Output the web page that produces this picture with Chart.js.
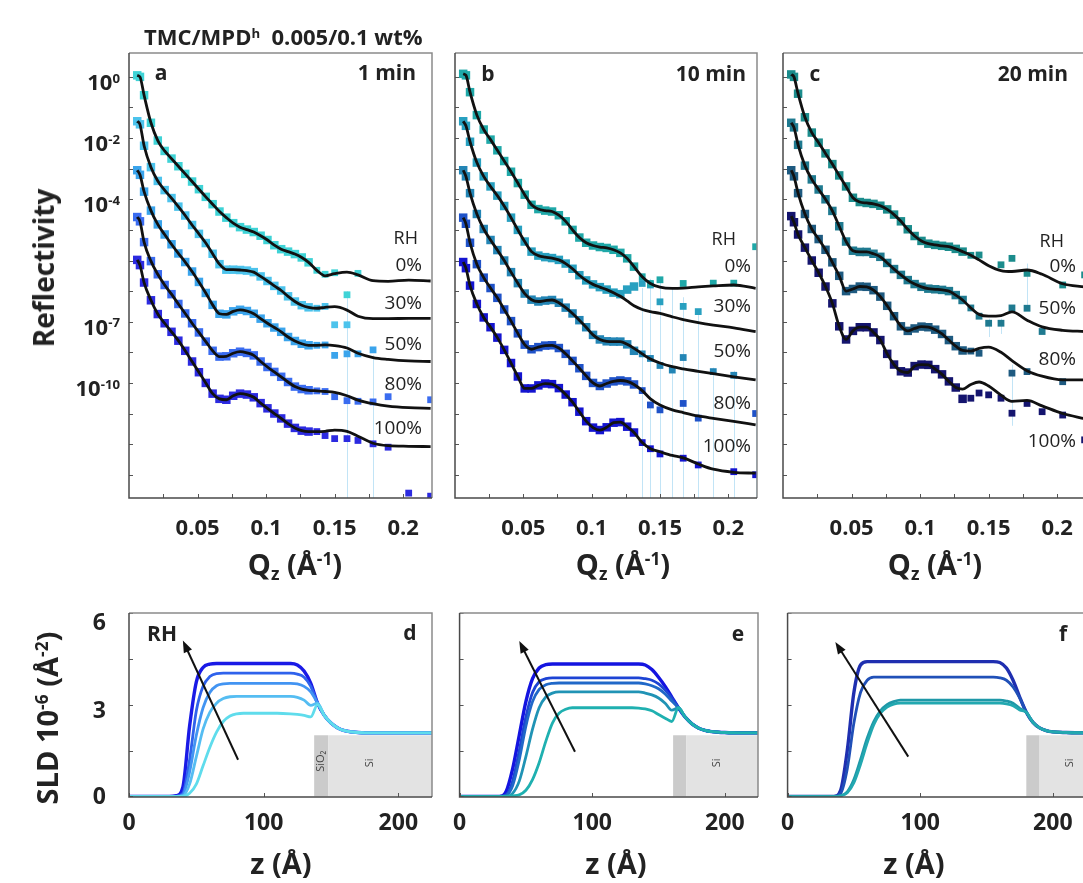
<!DOCTYPE html>
<html>
<head>
<meta charset="utf-8">
<script src="https://cdn.jsdelivr.net/npm/chart.js@4.4.1/dist/chart.umd.min.js"></script>
<style>
html, body { margin: 0; padding: 0; background: #fff; overflow: hidden; width: 1083px; height: 883px; }
body { position: relative; font-family: "Open Sans", "DejaVu Sans", sans-serif; color: #222; }
canvas { position: absolute; }
.lbl { position: absolute; white-space: nowrap; line-height: 1; }
.b { font-weight: 700; }
.sup { position: relative; font-size: 0.6em; top: -0.55em; }
.sub { position: relative; font-size: 0.6em; top: 0.3em; }
</style>
</head>
<body>
<canvas id="ca" width="445" height="560"></canvas>
<canvas id="cb" width="330" height="560"></canvas>
<canvas id="cc" width="330" height="560"></canvas>
<canvas id="cd" width="445" height="283"></canvas>
<canvas id="ce" width="330" height="283"></canvas>
<canvas id="cf" width="330" height="283"></canvas>
<script>
// ---- reflectivity data, log10(R), offset curves as in the figure ----
const qData = [0.006, 0.008, 0.011, 0.016, 0.021, 0.026, 0.031, 0.036, 0.041, 0.046, 0.051, 0.056, 0.061, 0.066, 0.071, 0.076, 0.081, 0.086, 0.091, 0.096, 0.101, 0.106, 0.111, 0.116, 0.121, 0.126, 0.131, 0.137, 0.143, 0.150, 0.159, 0.167, 0.178, 0.189, 0.204, 0.220];

// panel a, 1 min
const fitA0 = [0.05, 0.0, -0.6, -1.5, -2.08, -2.42, -2.67, -2.92, -3.17, -3.42, -3.67, -3.92, -4.16, -4.40, -4.60, -4.78, -4.91, -4.99, -5.07, -5.19, -5.33, -5.50, -5.63, -5.71, -5.79, -5.90, -6.06, -6.32, -6.50, -6.43, -6.38, -6.47, -6.66, -6.68, -6.64, -6.67];
const ptsA0 = [0.05, 0.0, -0.6, -1.5, -2.08, -2.42, -2.67, -2.92, -3.17, -3.42, -3.67, -3.92, -4.16, -4.40, -4.60, -4.78, -4.91, -4.99, -5.07, -5.19, -5.33, -5.50, -5.63, -5.71, -5.79, -5.90, -6.06, -6.32, -6.45, -6.40, -7.12, -6.42, null, null, null, null];
const fitA30 = [-1.45, -1.55, -2.25, -2.95, -3.40, -3.70, -3.96, -4.24, -4.53, -4.84, -5.13, -5.43, -5.78, -6.12, -6.30, -6.30, -6.31, -6.33, -6.38, -6.52, -6.67, -6.83, -6.98, -7.17, -7.34, -7.46, -7.53, -7.56, -7.53, -7.51, -7.62, -7.82, -7.90, -7.90, -7.89, -7.89];
const ptsA30 = [-1.45, -1.55, -2.25, -2.95, -3.40, -3.70, -3.96, -4.24, -4.53, -4.84, -5.13, -5.43, -5.78, -6.12, -6.30, -6.30, -6.31, -6.33, -6.38, -6.52, -6.67, -6.83, -6.98, -7.17, -7.34, -7.46, -7.53, -7.56, -7.50, -8.10, -8.10, null, null, null, null, null];
const fitA50 = [-3.05, -3.20, -3.75, -4.37, -4.82, -5.15, -5.47, -5.77, -6.05, -6.36, -6.70, -7.06, -7.45, -7.74, -7.76, -7.66, -7.61, -7.65, -7.74, -7.90, -8.05, -8.19, -8.33, -8.50, -8.63, -8.72, -8.77, -8.77, -8.76, -8.78, -8.86, -9.03, -9.17, -9.23, -9.28, -9.30];
const ptsA50 = [-3.05, -3.20, -3.75, -4.37, -4.82, -5.15, -5.47, -5.77, -6.05, -6.36, -6.70, -7.06, -7.45, -7.74, -7.76, -7.66, -7.61, -7.65, -7.74, -7.90, -8.05, -8.19, -8.33, -8.50, -8.63, -8.72, -8.77, -8.77, -8.76, -9.10, -9.05, -9.05, -8.92, null, null, null];
const fitA80 = [-4.58, -4.72, -5.40, -6.02, -6.45, -6.80, -7.10, -7.42, -7.73, -8.05, -8.35, -8.65, -8.95, -9.14, -9.13, -9.03, -8.98, -9.02, -9.10, -9.30, -9.48, -9.64, -9.80, -9.97, -10.12, -10.20, -10.24, -10.26, -10.28, -10.31, -10.42, -10.56, -10.68, -10.76, -10.81, -10.83];
const ptsA80 = [-4.58, -4.72, -5.40, -6.02, -6.45, -6.80, -7.10, -7.42, -7.73, -8.05, -8.35, -8.65, -8.95, -9.14, -9.13, -9.03, -8.98, -9.02, -9.10, -9.30, -9.48, -9.64, -9.80, -9.97, -10.12, -10.20, -10.24, -10.26, -10.28, -10.45, -10.58, -10.60, -10.62, -10.45, null, -10.55];
const fitA100 = [-5.98, -6.15, -6.72, -7.30, -7.75, -8.05, -8.33, -8.62, -8.95, -9.30, -9.65, -10.00, -10.35, -10.52, -10.55, -10.42, -10.35, -10.38, -10.47, -10.66, -10.83, -11.00, -11.16, -11.33, -11.47, -11.56, -11.59, -11.59, -11.58, -11.54, -11.58, -11.74, -11.97, -12.05, -12.07, -12.08];
const ptsA100 = [-5.98, -6.15, -6.72, -7.30, -7.75, -8.05, -8.33, -8.62, -8.95, -9.30, -9.65, -10.00, -10.35, -10.52, -10.55, -10.42, -10.35, -10.38, -10.47, -10.66, -10.83, -11.00, -11.16, -11.33, -11.47, -11.56, -11.59, -11.59, -11.72, -11.82, -11.82, -11.88, -11.99, -12.10, -13.6, -13.7];

// panel b, 10 min
const fitB0 = [0.10, 0.05, -0.50, -1.25, -1.72, -2.05, -2.40, -2.75, -3.10, -3.47, -3.85, -4.18, -4.32, -4.37, -4.40, -4.52, -4.72, -5.00, -5.25, -5.42, -5.51, -5.56, -5.59, -5.65, -5.75, -5.93, -6.20, -6.53, -6.75, -6.87, -6.91, -6.90, -6.86, -6.83, -6.80, -6.91];
const ptsB0 = [0.10, 0.05, -0.50, -1.25, -1.72, -2.05, -2.40, -2.75, -3.10, -3.47, -3.85, -4.18, -4.32, -4.37, -4.40, -4.52, -4.72, -5.00, -5.25, -5.42, -5.51, -5.56, -5.59, -5.65, -5.75, -5.93, -6.20, -6.53, -6.75, -6.63, null, -6.75, null, -6.74, -6.74, -5.55];
const fitB30 = [-1.45, -1.60, -2.12, -2.80, -3.25, -3.58, -3.88, -4.22, -4.60, -5.00, -5.38, -5.71, -5.84, -5.89, -5.92, -5.98, -6.10, -6.27, -6.48, -6.65, -6.78, -6.87, -6.95, -7.05, -7.17, -7.32, -7.48, -7.60, -7.67, -7.73, -7.84, -7.93, -8.03, -8.11, -8.20, -8.32];
const ptsB30 = [-1.45, -1.60, -2.12, -2.80, -3.25, -3.58, -3.88, -4.22, -4.60, -5.00, -5.38, -5.71, -5.84, -5.89, -5.92, -5.98, -6.10, -6.27, -6.48, -6.65, -6.78, -6.87, -6.95, -7.05, -7.10, -6.95, -6.85, -6.75, -6.80, -7.35, null, -7.50, -7.67, null, null, null];
const fitB50 = [-3.05, -3.25, -3.80, -4.48, -4.97, -5.33, -5.66, -6.00, -6.38, -6.74, -7.08, -7.28, -7.34, -7.31, -7.29, -7.38, -7.54, -7.73, -7.95, -8.18, -8.43, -8.58, -8.64, -8.65, -8.65, -8.74, -8.87, -9.05, -9.22, -9.35, -9.47, -9.54, -9.62, -9.70, -9.80, -9.90];
const ptsB50 = [-3.05, -3.25, -3.80, -4.48, -4.97, -5.33, -5.66, -6.00, -6.38, -6.74, -7.08, -7.28, -7.34, -7.31, -7.29, -7.38, -7.54, -7.73, -7.95, -8.18, -8.43, -8.58, -8.64, -8.65, -8.65, -8.74, -8.95, -9.05, -9.20, -9.43, -9.58, -9.17, null, -9.63, -9.75, null];
const fitB80 = [-4.60, -4.80, -5.42, -6.12, -6.56, -6.90, -7.22, -7.60, -7.98, -8.38, -8.75, -8.90, -8.83, -8.78, -8.77, -8.86, -9.05, -9.28, -9.52, -9.77, -10.00, -10.10, -10.02, -9.95, -9.92, -9.95, -10.05, -10.25, -10.52, -10.72, -10.88, -10.97, -11.08, -11.16, -11.26, -11.37];
const ptsB80 = [-4.60, -4.80, -5.42, -6.12, -6.56, -6.90, -7.22, -7.60, -7.98, -8.38, -8.75, -8.90, -8.83, -8.78, -8.77, -8.86, -9.05, -9.28, -9.52, -9.77, -10.00, -10.10, -10.02, -9.95, -9.92, -9.95, -10.05, -10.25, -10.72, -10.88, null, -10.67, -11.15, null, null, -11.0];
const fitB100 = [-6.05, -6.25, -6.82, -7.42, -7.86, -8.18, -8.52, -8.92, -9.35, -9.79, -10.18, -10.18, -10.08, -10.02, -10.04, -10.17, -10.38, -10.63, -10.94, -11.25, -11.46, -11.54, -11.45, -11.30, -11.28, -11.43, -11.62, -11.95, -12.15, -12.25, -12.37, -12.45, -12.65, -12.82, -12.92, -12.95];
const ptsB100 = [-6.05, -6.25, -6.82, -7.42, -7.86, -8.18, -8.52, -8.92, -9.35, -9.79, -10.18, -10.18, -10.08, -10.02, -10.04, -10.17, -10.38, -10.63, -10.94, -11.25, -11.46, -11.54, -11.45, -11.30, -11.28, -11.43, -11.62, -11.95, -12.15, -12.32, null, -12.46, -12.68, null, -12.90, -13.0];

// panel c, 20 min
const fitC0 = [0.08, 0.00, -0.55, -1.32, -1.82, -2.15, -2.50, -2.85, -3.22, -3.58, -3.95, -4.09, -4.12, -4.15, -4.21, -4.33, -4.50, -4.72, -4.98, -5.20, -5.36, -5.45, -5.49, -5.52, -5.55, -5.62, -5.71, -5.83, -5.98, -6.17, -6.33, -6.36, -6.31, -6.45, -6.76, -6.86];
const ptsC0 = [0.08, 0.00, -0.55, -1.32, -1.82, -2.15, -2.50, -2.85, -3.22, -3.58, -3.95, -4.09, -4.12, -4.15, -4.21, -4.33, -4.50, -4.72, -4.98, -5.20, -5.36, -5.45, -5.49, -5.52, -5.55, -5.62, -5.71, -5.83, -5.82, null, -6.14, -5.93, -6.42, null, -6.80, -6.47];
const fitC50 = [-1.50, -1.65, -2.22, -2.90, -3.35, -3.68, -4.00, -4.38, -4.88, -5.38, -5.68, -5.72, -5.72, -5.78, -5.88, -6.08, -6.28, -6.47, -6.64, -6.77, -6.86, -6.92, -6.94, -6.96, -7.00, -7.13, -7.29, -7.55, -7.76, -7.82, -7.80, -7.68, -7.95, -8.17, -8.28, -8.32];
const ptsC50 = [-1.50, -1.65, -2.22, -2.90, -3.35, -3.68, -4.00, -4.38, -4.88, -5.38, -5.68, -5.72, -5.72, -5.78, -5.88, -6.08, -6.28, -6.47, -6.64, -6.77, -6.86, -6.92, -6.94, -6.96, -7.00, -7.13, -7.29, -7.55, -7.82, -8.05, -8.05, -7.55, -7.56, -8.32, null, null];
const fitC80 = [-3.05, -3.25, -3.80, -4.48, -4.97, -5.30, -5.65, -6.06, -6.50, -7.00, -6.93, -6.85, -6.86, -6.97, -7.18, -7.48, -7.82, -8.15, -8.30, -8.22, -8.16, -8.18, -8.26, -8.40, -8.60, -8.80, -8.94, -8.96, -8.87, -8.83, -9.00, -9.27, -9.60, -9.78, -9.90, -9.90];
const ptsC80 = [-3.05, -3.25, -3.80, -4.48, -4.97, -5.30, -5.65, -6.06, -6.50, -7.00, -6.93, -6.85, -6.86, -6.97, -7.18, -7.48, -7.82, -8.15, -8.30, -8.22, -8.16, -8.18, -8.26, -8.40, -8.60, -8.80, -8.94, -8.96, -9.03, null, null, -9.68, -9.63, null, -9.96, null];
const fitC100 = [-4.55, -4.75, -5.15, -5.58, -6.00, -6.40, -6.85, -7.40, -8.15, -8.58, -8.30, -8.18, -8.18, -8.35, -8.60, -9.05, -9.40, -9.62, -9.66, -9.45, -9.40, -9.41, -9.55, -9.72, -9.95, -10.15, -10.20, -10.05, -9.97, -10.10, -10.40, -10.60, -10.57, -10.75, -11.00, -11.17];
const ptsC100 = [-4.55, -4.75, -5.15, -5.58, -6.00, -6.40, -6.85, -7.40, -8.15, -8.58, -8.30, -8.18, -8.18, -8.35, -8.60, -9.05, -9.40, -9.62, -9.66, -9.45, -9.40, -9.41, -9.55, -9.72, -9.95, -10.15, -10.52, -10.50, -10.33, -10.39, -10.50, -10.99, -10.67, -10.94, -11.05, -11.86];

// error bars at high Q: [q, log10 upper, log10 lower]
const errA = [[0.159, -7.0, -13.8], [0.178, -9.1, -13.8]];
const errB = [[0.137, -6.9, -13.8], [0.143, -6.6, -13.8], [0.150, -6.7, -13.8], [0.159, -6.9, -13.8], [0.167, -7.2, -13.8], [0.178, -7.6, -13.8], [0.189, -9.5, -13.8], [0.204, -9.6, -13.8], [0.220, -5.4, -13.8]];
const errC = [[0.150, -7.9, -8.5], [0.159, -7.9, -8.4], [0.167, -9.4, -11.4], [0.178, -6.1, -7.5]];

const rhAB = ['0%', '30%', '50%', '80%', '100%'];
const rhC = ['0%', '50%', '80%', '100%'];
const qTicks = [0.025, 0.05, 0.075, 0.1, 0.125, 0.15, 0.175, 0.2];
const qTickLabels = ['', '0.05', '', '0.1', '', '0.15', '', '0.2'];
const rDecades = [0, -1, -2, -3, -4, -5, -6, -7, -8, -9, -10, -11, -12, -13];
const rLabelDecades = [0, -2, -4, -8, -10];
const rLabelExps = ['0', '-2', '-4', '-7', '-10'];

// ---- SLD profiles, 10^-6 Å^-2 ----
const zGrid = [0, 30, 35, 40, 45, 50, 55, 60, 65, 70, 75, 80, 85, 90, 100, 110, 120, 125, 130, 135, 140, 145, 150, 155, 160, 165, 170, 175, 180, 185, 190, 195, 200, 210, 225];
const sldD0 = [0, 0, 0, 0, 0.1, 0.4, 1.0, 1.6, 2.1, 2.45, 2.63, 2.70, 2.72, 2.72, 2.72, 2.72, 2.70, 2.68, 2.65, 2.60, 3.0, 2.65, 2.40, 2.24, 2.15, 2.11, 2.09, 2.08, 2.08, 2.08, 2.08, 2.08, 2.08, 2.08, 2.08];
const sldD30 = [0, 0, 0, 0.02, 0.4, 1.3, 2.2, 2.75, 3.05, 3.20, 3.26, 3.27, 3.27, 3.27, 3.27, 3.27, 3.27, 3.24, 3.15, 2.98, 3.05, 2.65, 2.40, 2.24, 2.15, 2.11, 2.09, 2.08, 2.08, 2.08, 2.08, 2.08, 2.08, 2.08, 2.08];
const sldD50 = [0, 0, 0, 0.05, 0.8, 2.0, 2.9, 3.4, 3.62, 3.68, 3.70, 3.70, 3.70, 3.70, 3.70, 3.70, 3.70, 3.68, 3.60, 3.42, 3.05, 2.65, 2.40, 2.24, 2.15, 2.11, 2.09, 2.08, 2.08, 2.08, 2.08, 2.08, 2.08, 2.08, 2.08];
const sldD80 = [0, 0, 0, 0.1, 1.2, 2.8, 3.6, 3.92, 4.02, 4.03, 4.03, 4.03, 4.03, 4.03, 4.03, 4.03, 4.03, 4.00, 3.90, 3.60, 3.05, 2.65, 2.40, 2.24, 2.15, 2.11, 2.09, 2.08, 2.08, 2.08, 2.08, 2.08, 2.08, 2.08, 2.08];
const sldD100 = [0, 0, 0.02, 0.3, 2.3, 3.75, 4.22, 4.33, 4.35, 4.35, 4.35, 4.35, 4.35, 4.35, 4.35, 4.35, 4.35, 4.30, 4.10, 3.70, 3.05, 2.65, 2.40, 2.24, 2.15, 2.11, 2.09, 2.08, 2.08, 2.08, 2.08, 2.08, 2.08, 2.08, 2.08];

const sldE0 = [0, 0, 0, 0.02, 0.05, 0.2, 0.55, 1.1, 1.8, 2.4, 2.72, 2.85, 2.90, 2.90, 2.90, 2.90, 2.90, 2.90, 2.90, 2.89, 2.86, 2.80, 2.68, 2.56, 2.45, 2.90, 2.60, 2.38, 2.24, 2.16, 2.12, 2.10, 2.09, 2.08, 2.08];
const sldE30 = [0, 0, 0, 0.1, 0.5, 1.3, 2.2, 2.9, 3.25, 3.38, 3.42, 3.42, 3.42, 3.42, 3.42, 3.42, 3.42, 3.42, 3.42, 3.42, 3.38, 3.32, 3.22, 3.05, 2.82, 2.90, 2.60, 2.38, 2.24, 2.16, 2.12, 2.10, 2.09, 2.08, 2.08];
const sldE50 = [0, 0, 0.03, 0.35, 1.2, 2.3, 3.1, 3.5, 3.65, 3.70, 3.71, 3.71, 3.71, 3.71, 3.71, 3.71, 3.71, 3.71, 3.71, 3.71, 3.68, 3.62, 3.52, 3.35, 3.12, 2.90, 2.60, 2.38, 2.24, 2.16, 2.12, 2.10, 2.09, 2.08, 2.08];
const sldE80 = [0, 0, 0.05, 0.5, 1.5, 2.6, 3.4, 3.75, 3.85, 3.88, 3.88, 3.88, 3.88, 3.88, 3.88, 3.88, 3.88, 3.88, 3.88, 3.88, 3.85, 3.80, 3.68, 3.48, 3.22, 2.90, 2.60, 2.38, 2.24, 2.16, 2.12, 2.10, 2.09, 2.08, 2.08];
const sldE100 = [0, 0, 0.15, 0.9, 2.0, 3.1, 3.85, 4.2, 4.31, 4.33, 4.33, 4.33, 4.33, 4.33, 4.33, 4.33, 4.33, 4.33, 4.33, 4.33, 4.30, 4.15, 3.90, 3.60, 3.25, 2.90, 2.60, 2.38, 2.24, 2.16, 2.12, 2.10, 2.09, 2.08, 2.08];

const sldF0 = [0, 0, 0, 0.02, 0.12, 0.45, 1.05, 1.75, 2.35, 2.72, 2.92, 3.02, 3.05, 3.05, 3.05, 3.05, 3.05, 3.05, 3.05, 3.05, 3.05, 3.05, 3.05, 3.05, 3.05, 3.03, 2.97, 2.83, 2.75, 2.42, 2.24, 2.15, 2.11, 2.09, 2.08];
const sldF50 = [0, 0, 0, 0.02, 0.15, 0.55, 1.2, 1.9, 2.45, 2.8, 3.0, 3.1, 3.15, 3.15, 3.15, 3.15, 3.15, 3.15, 3.15, 3.15, 3.15, 3.15, 3.15, 3.15, 3.15, 3.12, 3.05, 2.88, 2.75, 2.42, 2.24, 2.15, 2.11, 2.09, 2.08];
const sldF80 = [0, 0, 0, 0.1, 0.9, 2.4, 3.4, 3.8, 3.9, 3.9, 3.9, 3.9, 3.9, 3.9, 3.9, 3.9, 3.9, 3.9, 3.9, 3.9, 3.9, 3.9, 3.9, 3.9, 3.88, 3.80, 3.58, 3.22, 2.75, 2.42, 2.24, 2.15, 2.11, 2.09, 2.08];
const sldF100 = [0, 0, 0, 0.2, 1.5, 3.4, 4.3, 4.41, 4.41, 4.41, 4.41, 4.41, 4.41, 4.41, 4.41, 4.41, 4.41, 4.41, 4.41, 4.41, 4.41, 4.41, 4.41, 4.41, 4.38, 4.20, 3.80, 3.25, 2.75, 2.42, 2.24, 2.15, 2.11, 2.09, 2.08];

// substrate layers [z from, z to]
const siO2D = [137.5, 148], siD = [148, 225];
const siO2E = [161, 171], siE = [171, 225];
const siO2F = [180, 190], siF = [190, 225];
const substrateTop = 2.0;
// RH arrows [zTail, sldTail, zHead, sldHead]
const arrowD = [81, 1.2, 40, 5.1];
const arrowE = [87, 1.46, 45, 5.08];
const arrowF = [91, 1.3, 36, 5.05];
const sldTicks = [0, 1.5, 3, 4.5, 6];
const sldLabelTicks = [0, 3, 6];
const zTicks = [0, 100, 200];

// ---- colours ----
const colA = ['#3fd3d6', '#4cc3ec', '#3aa4ec', '#3a6cf0', '#2c2ae0'];
const colB = ['#1fa8a8', '#28a0c0', '#2385b5', '#1f52c8', '#1414d0'];
const colC = ['#1b8c8c', '#1f7a90', '#1e5a80', '#14146e'];
const colD = ['#5fdcec', '#55bdf2', '#4294f2', '#2f62ec', '#1a1ae6'];
const colE = ['#1fb0b0', '#2093b5', '#2068c8', '#1d44d4', '#1414e0'];
const colF = ['#22a8b0', '#1f98a8', '#2050b8', '#1f2fb0'];

Chart.defaults.font.family = '"Open Sans", "DejaVu Sans", sans-serif';
Chart.defaults.color = '#222';

const toLog = (xs, ys) => xs.map((x, i) => ({x: x, y: ys[i] == null ? null : Math.pow(10, ys[i])}));
const toXY = (xs, ys) => xs.map((x, i) => ({x: x, y: ys[i]}));

// frame, inward ticks, error bars, substrate boxes and arrows
const extras = {
    id: 'extras',
    beforeDatasetsDraw(chart, args, o) {
        const {ctx, chartArea: a} = chart, xs = chart.scales.x, ys = chart.scales.y;
        ctx.save();
        ctx.beginPath();
        ctx.rect(a.left, a.top, a.right - a.left, a.bottom - a.top);
        ctx.clip();
        ctx.strokeStyle = 'rgba(120, 195, 235, 0.45)';
        ctx.lineWidth = 1;
        (o.errors || []).forEach(e => {
            const x = Math.round(xs.getPixelForValue(e[0])) + 0.5;
            ctx.beginPath();
            ctx.moveTo(x, ys.getPixelForValue(Math.pow(10, e[1])));
            ctx.lineTo(x, ys.getPixelForValue(Math.pow(10, e[2])));
            ctx.stroke();
        });
        (o.boxes || []).forEach(b => {
            const x0 = xs.getPixelForValue(b.from), x1 = xs.getPixelForValue(b.to);
            const y0 = ys.getPixelForValue(0), y1 = ys.getPixelForValue(b.top);
            ctx.fillStyle = b.color;
            ctx.fillRect(x0, y1, x1 - x0, y0 - y1);
            if (b.text) {
                ctx.save();
                ctx.translate(xs.getPixelForValue(b.tx), ys.getPixelForValue(b.ty));
                ctx.rotate(-Math.PI / 2);
                ctx.fillStyle = '#444';
                ctx.font = '11px "Open Sans", "DejaVu Sans", sans-serif';
                ctx.textAlign = 'center';
                ctx.textBaseline = 'middle';
                ctx.fillText(b.text, 0, 0);
                ctx.restore();
            }
        });
        ctx.restore();
    },
    afterDatasetsDraw(chart, args, o) {
        const {ctx, chartArea: a} = chart, xs = chart.scales.x, ys = chart.scales.y;
        ctx.save();
        (o.arrows || []).forEach(ar => {
            const x0 = xs.getPixelForValue(ar[0]), y0 = ys.getPixelForValue(ar[1]);
            const x1 = xs.getPixelForValue(ar[2]), y1 = ys.getPixelForValue(ar[3]);
            const ang = Math.atan2(y1 - y0, x1 - x0);
            ctx.strokeStyle = '#111'; ctx.fillStyle = '#111'; ctx.lineWidth = 2;
            ctx.beginPath();
            ctx.moveTo(x0, y0);
            ctx.lineTo(x1 - 8 * Math.cos(ang), y1 - 8 * Math.sin(ang));
            ctx.stroke();
            ctx.beginPath();
            ctx.moveTo(x1, y1);
            ctx.lineTo(x1 - 12 * Math.cos(ang) + 4.5 * Math.sin(ang), y1 - 12 * Math.sin(ang) - 4.5 * Math.cos(ang));
            ctx.lineTo(x1 - 12 * Math.cos(ang) - 4.5 * Math.sin(ang), y1 - 12 * Math.sin(ang) + 4.5 * Math.cos(ang));
            ctx.closePath();
            ctx.fill();
        });
        // inward ticks
        ctx.strokeStyle = '#555'; ctx.lineWidth = 1;
        xs.ticks.forEach(t => {
            const p = Math.round(xs.getPixelForValue(t.value)) + 0.5;
            ctx.beginPath(); ctx.moveTo(p, a.bottom); ctx.lineTo(p, a.bottom - 4); ctx.stroke();
        });
        ys.ticks.forEach(t => {
            const p = Math.round(ys.getPixelForValue(t.value)) + 0.5;
            ctx.beginPath(); ctx.moveTo(a.left, p); ctx.lineTo(a.left + 4, p); ctx.stroke();
        });
        // frame
        ctx.lineWidth = 1.5;
        ctx.strokeStyle = '#8a8a8a';
        ctx.beginPath();
        ctx.moveTo(a.left, a.top); ctx.lineTo(a.right, a.top); ctx.lineTo(a.right, a.bottom);
        ctx.stroke();
        ctx.strokeStyle = '#4a4a4a';
        ctx.beginPath();
        ctx.moveTo(a.left, a.top); ctx.lineTo(a.left, a.bottom); ctx.lineTo(a.right, a.bottom);
        ctx.stroke();
        ctx.restore();
    }
};

function place(id, left, top) {
    const c = document.getElementById(id);
    c.style.left = left + 'px';
    c.style.top = top + 'px';
    return c;
}

function reflChart(id, left, yWidth, padRight, fits, pts, cols, errors) {
    const c = place(id, left, 40);
    const datasets = [];
    fits.forEach((f, i) => {
        datasets.push({
            data: toLog(qData, f), showLine: true, borderColor: '#111', borderWidth: 2.8,
            pointRadius: 0, cubicInterpolationMode: 'monotone', order: 0
        });
    });
    pts.forEach((p, i) => {
        datasets.push({
            data: toLog(qData, p), showLine: false, pointStyle: 'rect',
            // dense low-Q points overlap into a band, sparse high-Q points stay small
            pointRadius: ctx => (ctx.raw && ctx.raw.x < 0.135 ? 6 : 4.8),
            pointBackgroundColor: cols[i], pointBorderWidth: 0, borderWidth: 0, order: 1
        });
    });
    return new Chart(c, {
        type: 'scatter',
        data: {datasets: datasets},
        options: {
            responsive: false, animation: false, events: [],
            layout: {padding: {top: 13, right: padRight, left: 0, bottom: 0}},
            plugins: {legend: {display: false}, tooltip: {enabled: false}, extras: {errors: errors}},
            scales: {
                x: {
                    type: 'linear', min: 0, max: 0.221,
                    afterBuildTicks: s => { s.ticks = qTicks.map(v => ({value: v})); },
                    afterFit: s => { s.height = 102; },
                    grid: {display: false, drawTicks: false}, border: {display: false},
                    ticks: {
                        padding: 18, maxRotation: 0, autoSkip: false,
                        font: {size: 22, weight: 'bold'}, color: '#222',
                        callback: (v, i) => qTickLabels[i]
                    }
                },
                y: {
                    type: 'logarithmic', min: Math.pow(10, -13.76), max: Math.pow(10, 0.78),
                    afterBuildTicks: s => { s.ticks = rDecades.map(d => ({value: Math.pow(10, d)})); },
                    afterFit: s => { s.width = yWidth; },
                    grid: {display: false, drawTicks: false}, border: {display: false},
                    ticks: {display: false}
                }
            }
        },
        plugins: [extras]
    });
}

function sldChart(id, left, yWidth, padRight, curves, cols, siO2, si, siText, arrow) {
    const c = place(id, left, 600);
    const datasets = curves.map((s, i) => ({
        data: toXY(zGrid, s), showLine: true, borderColor: cols[i], borderWidth: i === curves.length - 1 ? 3.4 : 2.8,
        pointRadius: 0, cubicInterpolationMode: 'monotone'
    }));
    const boxes = [
        {from: siO2[0], to: siO2[1], top: substrateTop, color: '#cbcbcb',
         text: siText ? 'SiO\u2082' : null, tx: (siO2[0] + siO2[1]) / 2, ty: 1.15},
        {from: si[0], to: si[1], top: substrateTop, color: '#e3e3e3',
         text: 'Si', tx: si[0] + (siText ? 31 : 23), ty: 1.1}
    ];
    return new Chart(c, {
        type: 'scatter',
        data: {datasets: datasets},
        options: {
            responsive: false, animation: false, events: [],
            layout: {padding: {top: 13, right: padRight, left: 0, bottom: 0}},
            plugins: {legend: {display: false}, tooltip: {enabled: false},
                      extras: {boxes: boxes, arrows: [arrow]}},
            scales: {
                x: {
                    type: 'linear', min: 0, max: 225,
                    afterBuildTicks: s => { s.ticks = zTicks.map(v => ({value: v})); },
                    afterFit: s => { s.height = 86; },
                    grid: {display: false, drawTicks: false}, border: {display: false},
                    ticks: {padding: 13, maxRotation: 0, autoSkip: false,
                            font: {size: 23, weight: 'bold'}, color: '#222'}
                },
                y: {
                    type: 'linear', min: -0.02, max: 6,
                    afterBuildTicks: s => { s.ticks = sldTicks.map(v => ({value: v})); },
                    afterFit: s => { s.width = yWidth; },
                    grid: {display: false, drawTicks: false}, border: {display: false},
                    ticks: {display: false}
                }
            }
        },
        plugins: [extras]
    });
}

const chA = reflChart('ca', 0, 129, 13, [fitA0, fitA30, fitA50, fitA80, fitA100], [ptsA0, ptsA30, ptsA50, ptsA80, ptsA100], colA, errA);
reflChart('cb', 440, 15, 13, [fitB0, fitB30, fitB50, fitB80, fitB100], [ptsB0, ptsB30, ptsB50, ptsB80, ptsB100], colB, errB);
reflChart('cc', 768, 15, 12, [fitC0, fitC50, fitC80, fitC100], [ptsC0, ptsC50, ptsC80, ptsC100], colC, errC);
const chD = sldChart('cd', 0, 129, 13, [sldD0, sldD30, sldD50, sldD80, sldD100], colD, siO2D, siD, true, arrowD);
sldChart('ce', 440, 15, 12, [sldE0, sldE30, sldE50, sldE80, sldE100], colE, siO2E, siE, false, arrowE);
sldChart('cf', 768, 14, 12, [sldF0, sldF50, sldF80, sldF100], colF, siO2F, siF, false, arrowF);

// ---- text ----
function label(html, x, y, cls, anchor, size, rot) {
    const d = document.createElement('div');
    d.className = 'lbl ' + (cls || '');
    d.innerHTML = html;
    d.style.left = x + 'px';
    d.style.top = y + 'px';
    d.style.fontSize = size + 'px';
    const tr = anchor === 'r' ? 'translate(-100%,-50%)' : anchor === 'l' ? 'translate(0,-50%)' : 'translate(-50%,-50%)';
    d.style.transform = tr + (rot ? ' rotate(-90deg)' : '');
    document.body.appendChild(d);
}

label('TMC/MPD<span class="sup">h</span>&nbsp; 0.005/0.1 wt%', 144, 36, 'b', 'l', 22);
label('Reflectivity', 43, 268, 'b', 'c', 28, true);
label('SLD 10<span class="sup">-6</span> (Å<span class="sup">-2</span>)', 46, 718, 'b', 'c', 29, true);
[295, 623, 935].forEach(x => label('Q<span class="sub">z</span> (Å<span class="sup">-1</span>)', x, 563, 'b', 'c', 29));
[281, 616, 914].forEach(x => label('z (Å)', x, 862, 'b', 'c', 29));

// y tick labels follow the scales of panels a and d
const ya = chA.scales.y;
rLabelDecades.forEach((d, i) => {
    const py = 40 + ya.getPixelForValue(Math.pow(10, d));
    label('10<span class="sup">' + rLabelExps[i] + '</span>', 120, py + 4, 'b', 'r', 22);
});
const yd = chD.scales.y;
sldLabelTicks.forEach(v => {
    const py = 600 + yd.getPixelForValue(v);
    label(String(v), 106, py + (v === 6 ? 8 : v === 3 ? 4 : -1), 'b', 'r', 23);
});

label('a', 161, 72, 'b', 'c', 21);
label('1 min', 416, 72, 'b', 'r', 21);
label('b', 488, 73, 'b', 'c', 21);
label('10 min', 746, 73, 'b', 'r', 21);
label('c', 815, 73, 'b', 'c', 21);
label('20 min', 1068, 73, 'b', 'r', 21);
label('d', 410, 632, 'b', 'c', 21);
label('e', 738, 633, 'b', 'c', 21);
label('f', 1063, 633, 'b', 'c', 21);
label('RH', 162, 633, 'b', 'c', 21);

label('RH', 418, 237, '', 'r', 18);
[264, 302, 343, 383, 427].forEach((y, i) => label(rhAB[i], 422, y, '', 'r', 19));
label('RH', 736, 238, '', 'r', 18);
[265, 305, 350, 402, 445].forEach((y, i) => label(rhAB[i], 751, y, '', 'r', 19));
label('RH', 1064, 240, '', 'r', 18);
[265, 307, 358, 440].forEach((y, i) => label(rhC[i], 1076, y, '', 'r', 19));
</script>
</body>
</html>
